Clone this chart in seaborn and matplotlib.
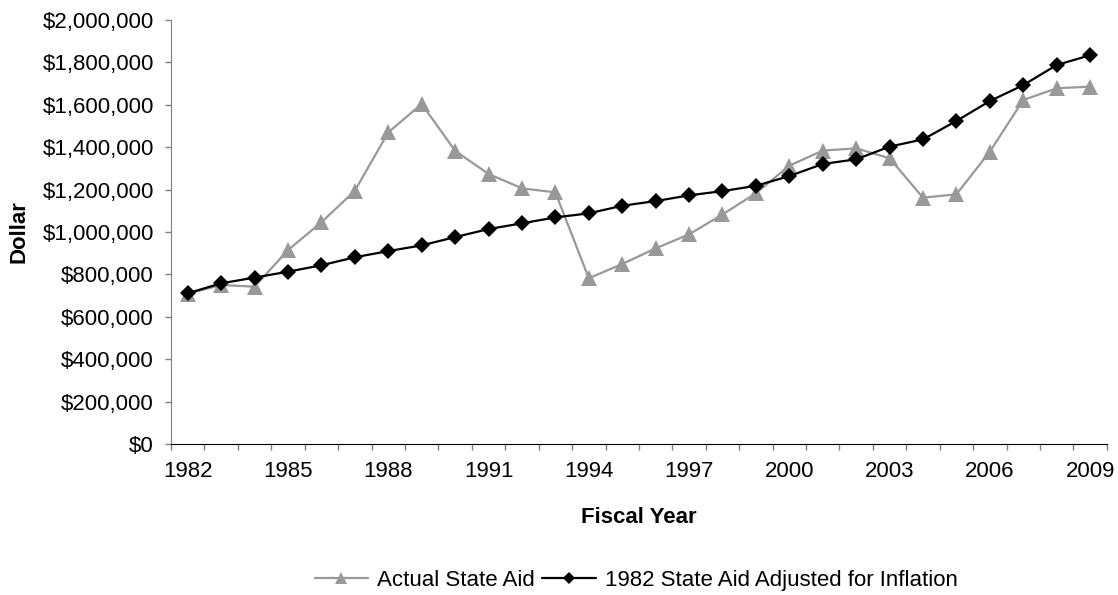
import numpy as np
import pandas as pd
import seaborn as sns
import matplotlib.pyplot as plt
from matplotlib.ticker import FuncFormatter, MultipleLocator

years = list(range(1982, 2010))
label_years = years[::3]

# Actual State Aid (dollars)
actual = [709000, 750000, 742000, 915000, 1046000, 1195000, 1470000, 1604000,
          1383000, 1274000, 1206000, 1187000, 782000, 849000, 923000, 989000,
          1083000, 1183000, 1313000, 1384000, 1395000, 1348000, 1162000, 1178000,
          1379000, 1623000, 1678000, 1686000]

# 1982 State Aid Adjusted for Inflation (dollars)
adjusted = [711000, 758000, 785000, 813000, 843000, 881000, 910000, 937000,
            976000, 1014000, 1041000, 1069000, 1088000, 1124000, 1146000, 1173000,
            1193000, 1218000, 1264000, 1321000, 1343000, 1403000, 1437000, 1524000,
            1618000, 1693000, 1788000, 1834000]

series_names = ['Actual State Aid', '1982 State Aid Adjusted for Inflation']

df = pd.DataFrame({
    'year': years * 2,
    'value': actual + adjusted,
    'series': [series_names[0]] * len(years) + [series_names[1]] * len(years),
})

sns.set_style('white', {'text.color': 'black', 'axes.labelcolor': 'black',
                        'xtick.color': 'black', 'ytick.color': 'black'})
plt.rcParams['font.family'] = ['Liberation Sans', 'DejaVu Sans']

fig = plt.figure(figsize=(11.18, 5.95), dpi=100)
ax = fig.add_axes([0.153, 0.2538, 0.837, 0.7125])

sns.lineplot(data=df, x='year', y='value', hue='series', style='series',
             palette={series_names[0]: '#999999', series_names[1]: '#000000'},
             markers={series_names[0]: '^', series_names[1]: 'D'},
             dashes=False, linewidth=1.6, markersize=11, markeredgewidth=0,
             ax=ax, legend=False)
# diamonds a bit smaller than the triangles
for ln in ax.lines:
    if ln.get_marker() == 'D':
        ln.set_markersize(8.5)

ax.set_xlim(1981.5, 2009.5)
ax.set_ylim(0, 2000000)
ax.set_xticks(label_years)
ax.xaxis.set_minor_locator(MultipleLocator(1, offset=0.5))
ax.yaxis.set_major_locator(MultipleLocator(200000))
ax.yaxis.set_major_formatter(FuncFormatter(lambda v, p: '${:,.0f}'.format(v)))

ax.tick_params(axis='x', which='major', length=0, pad=12, labelsize=16, labelcolor='black')
ax.tick_params(axis='x', which='minor', bottom=True, length=4.5, width=1, color='#808080', direction='out')
ax.tick_params(axis='y', left=True, length=4.5, width=1, color='#808080', direction='out', pad=8,
               labelsize=16, labelcolor='black')

sns.despine(ax=ax)
ax.spines['left'].set_color('#808080')
ax.spines['bottom'].set_color('#000000')

ax.set_xlabel('Fiscal Year', fontsize=16, fontweight='bold', labelpad=18, color='black')
ax.set_ylabel('Dollar', fontsize=16, fontweight='bold', labelpad=9, color='black')

h1 = plt.Line2D([], [], color='#999999', marker='^', markersize=9, linewidth=1.6, markeredgewidth=0)
h2 = plt.Line2D([], [], color='#000000', marker='D', markersize=6.5, linewidth=1.6, markeredgewidth=0)
leg = fig.legend([h1, h2], series_names, loc='center', bbox_to_anchor=(0.569, 0.024),
                 ncol=2, frameon=False, fontsize=16, handlelength=2.4, handletextpad=0.4,
                 columnspacing=0.35, borderpad=0)
for t in leg.get_texts():
    t.set_color('black')

fig.savefig('out.png', dpi=100)
